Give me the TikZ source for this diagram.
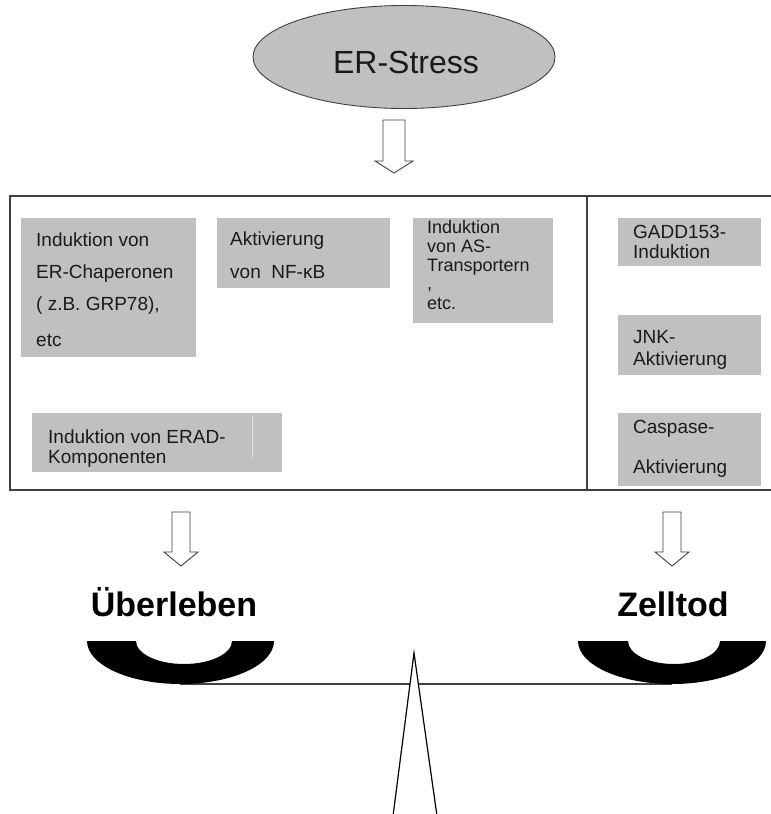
\documentclass[tikz,border=0pt]{standalone}
\usepackage{fontspec}
\setmainfont{Liberation Sans}
\usetikzlibrary{shapes.geometric}
\definecolor{boxgray}{HTML}{C0C0C0}
\definecolor{edge}{HTML}{404040}
\definecolor{txt}{HTML}{1A1A1A}
\begin{document}
\begin{tikzpicture}[x=1pt,y=-1pt,
  graybox/.style={fill=boxgray,draw=none},
  boxtext/.style={anchor=base west,inner sep=0pt,text=txt,font=\fontsize{19}{22}\selectfont},
  astext/.style={boxtext,font=\fontsize{18}{21}\selectfont},
  bigtext/.style={anchor=base,inner sep=0pt,text=black,font=\fontsize{34}{40}\selectfont\bfseries},
  hollowarrow/.style={draw=edge,line width=0.9pt,fill=white,line join=miter}]
\useasboundingbox (0,0) rectangle (771,814);
\fill[white] (0,0) rectangle (771,814);

% ER-Stress ellipse
\node[ellipse,draw=edge,line width=0.9pt,fill=boxgray,minimum width=302pt,minimum height=103pt,inner sep=0pt] (er) at (404,57) {};
\node[anchor=base,inner sep=0pt,text=txt,font=\fontsize{32}{38}\selectfont] (ertext) at (406,73) {ER-Stress};

% top arrow
\draw[hollowarrow] (383,120) -- (405,120) -- (405,161) -- (413,161) -- (394,173) -- (375,161) -- (383,161) -- cycle;

% main frame
\draw[edge,line width=1.4pt] (772,196) -- (10,196) -- (10,490) -- (772,490);
\draw[edge,line width=1.4pt] (587,196) -- (587,490);

% gray boxes
\fill[boxgray] (21,218) rectangle (196,357);
\fill[boxgray] (217,218) rectangle (390,288);
\fill[boxgray] (32,413) rectangle (282,472);
\draw[color=black!12,line width=0.6pt] (252,415) -- (252,458);
\fill[boxgray] (413,218) rectangle (553,323);
\fill[boxgray] (618,218) rectangle (761,266);
\fill[boxgray] (618,315) rectangle (761,375);
\fill[boxgray] (618,413) rectangle (761,486);

% box texts
\node[boxtext] (b1a) at (36,246) {Induktion von};
\node[boxtext] (b1b) at (36,278) {ER-Chaperonen};
\node[boxtext] (b1c) at (36,310) {( z.B. GRP78),};
\node[boxtext] (b1d) at (36,346) {etc};

\node[boxtext] (b2a) at (230,245) {Aktivierung};
\node[boxtext] (b2b) at (230,278) {von\ \ NF-κB};

\node[boxtext] (b3a) at (48,443) {Induktion von ERAD-};
\node[boxtext] (b3b) at (48,463) {Komponenten};

\node[astext] (b4a) at (427,233) {Induktion};
\node[astext] (b4b) at (427,252) {von AS-};
\node[astext] (b4c) at (427,271) {Transportern};
\node[astext] (b4d) at (427,289) {,};
\node[astext] (b4e) at (427,309) {etc.};

\node[boxtext] (b5a) at (633,238) {GADD153-};
\node[boxtext] (b5b) at (633,258) {Induktion};

\node[boxtext] (b6a) at (633,343) {JNK-};
\node[boxtext] (b6b) at (633,365) {Aktivierung};

\node[boxtext] (b7a) at (633,433) {Caspase-};
\node[boxtext] (b7b) at (633,473) {Aktivierung};

% lower arrows
\draw[hollowarrow] (172,512) -- (190,512) -- (190,552) -- (198,552) -- (181,566) -- (164,552) -- (172,552) -- cycle;
\draw[hollowarrow] (663,512) -- (681,512) -- (681,552) -- (689,552) -- (672,566) -- (655,552) -- (663,552) -- cycle;

% labels
\node[bigtext] (ueb) at (174,616) {Überleben};
\node[bigtext] (zell) at (673,616) {Zelltod};

% beam
\draw[edge,line width=1.3pt] (180,684) -- (672,684);

% bowls
\fill[black] (87,641) -- (136,641) arc[start angle=180,end angle=0,x radius=48,y radius=23] -- (274,641) arc[start angle=0,end angle=180,x radius=93.5,y radius=43] -- cycle;
\fill[black] (578,641) -- (628,641) arc[start angle=180,end angle=0,x radius=46,y radius=23] -- (766,641) arc[start angle=0,end angle=180,x radius=94,y radius=43] -- cycle;

% fulcrum
\draw[black,line width=1.2pt,fill=white,line join=miter] (393,816) -- (414,653) -- (437,816);
\end{tikzpicture}
\end{document}
